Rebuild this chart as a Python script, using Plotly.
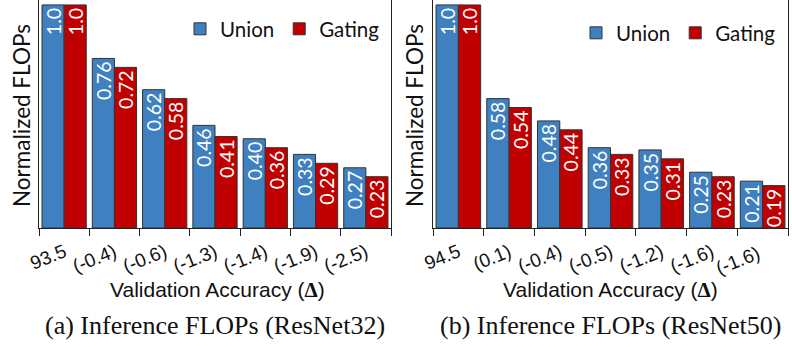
import plotly.graph_objects as go

cats_a = ["93.5", "(-0.4)", "(-0.6)", "(-1.3)", "(-1.4)", "(-1.9)", "(-2.5)"]
union_a = [1.0, 0.76, 0.62, 0.46, 0.40, 0.33, 0.27]
gating_a = [1.0, 0.72, 0.58, 0.41, 0.36, 0.29, 0.23]
labels_union_a = ["1.0", "0.76", "0.62", "0.46", "0.40", "0.33", "0.27"]
labels_gating_a = ["1.0", "0.72", "0.58", "0.41", "0.36", "0.29", "0.23"]

cats_b = ["94.5", "(0.1)", "(-0.4)", "(-0.5)", "(-1.2)", "(-1.6)", "(-1.6) "]
union_b = [1.0, 0.58, 0.48, 0.36, 0.35, 0.25, 0.21]
gating_b = [1.0, 0.54, 0.44, 0.33, 0.31, 0.23, 0.19]
labels_union_b = ["1.0", "0.58", "0.48", "0.36", "0.35", "0.25", "0.21"]
labels_gating_b = ["1.0", "0.54", "0.44", "0.33", "0.31", "0.23", "0.19"]

BLUE = "#3F80C0"
RED = "#C00000"
LAB_FONT = dict(family="Lato", size=19.5, color="white")

fig = go.Figure()

def add(cats, vals, labels, name, color, xa, ya, legend):
    fig.add_trace(go.Bar(
        x=cats, y=vals, name=name, text=labels, textposition="inside",
        insidetextanchor="end", textangle=-90, textfont=LAB_FONT,
        marker=dict(color=color, line=dict(color="#333333", width=1)),
        xaxis=xa, yaxis=ya, legend=legend, cliponaxis=True,
    ))

add(cats_a, union_a, labels_union_a, "Union", BLUE, "x", "y", "legend")
add(cats_a, gating_a, labels_gating_a, "Gating", RED, "x", "y", "legend")
add(cats_b, union_b, labels_union_b, "Union", BLUE, "x2", "y2", "legend2")
add(cats_b, gating_b, labels_gating_b, "Gating", RED, "x2", "y2", "legend2")

W, H = 792, 347
ydom = [1 - 228 / H, 1.0]
xcommon = dict(showline=True, linecolor="#222222", linewidth=1, mirror=True,
               ticks="outside", tickson="boundaries", ticklen=7, tickcolor="#222222",
               tickangle=-22, ticklabelstandoff=5, automargin=False,
               tickfont=dict(family="Liberation Sans", size=19, color="#111111"),
               showgrid=False, zeroline=False)
ycommon = dict(range=[0, 1.022], showline=True, linecolor="#222222", linewidth=1, mirror=True,
               showticklabels=False, ticks="", showgrid=False, zeroline=False, domain=ydom,
               automargin=False)

leg = dict(orientation="h", font=dict(family="Lato", size=20.5, color="#111111"),
           bgcolor="rgba(0,0,0,0)", itemwidth=30, xanchor="right", yanchor="top",
           tracegroupgap=0, itemclick=False)

fig.update_layout(
    width=W, height=H, margin=dict(l=0, r=0, t=0, b=0, autoexpand=False),
    paper_bgcolor="white", plot_bgcolor="white",
    barmode="group", bargap=0.12, bargroupgap=0.0,
    xaxis=dict(domain=[39 / W, 391 / W], anchor="y", **xcommon),
    xaxis2=dict(domain=[433 / W, 788 / W], anchor="y2", **xcommon),
    yaxis=dict(anchor="x", **ycommon),
    yaxis2=dict(anchor="x2", **ycommon),
    legend=dict(x=385 / W, y=1 - 9 / H, **leg),
    legend2=dict(x=781 / W, y=1 - 13 / H, **leg),
    uniformtext=dict(minsize=19, mode="show"),
    showlegend=True,
)

ytitle_font = dict(family="Lato", size=22.5, color="#111111")
xt_font = dict(family="Liberation Sans", size=21, color="#111111")
cap_font = dict(family="Liberation Serif", size=26, color="#111111")
xtitle = "Validation Accuracy (<b><span style='font-family:Liberation Serif'>Δ</span></b>)"

for xc, ycen, cap, xcap in [(21, 217, "(a) Inference FLOPs (ResNet32)", 215),
                            (414, 610, "(b) Inference FLOPs (ResNet50)", 611)]:
    fig.add_annotation(text="Normalized FLOPs", textangle=-90, x=xc / W, y=1 - 116 / H,
                       xref="paper", yref="paper", showarrow=False, font=ytitle_font,
                       xanchor="center", yanchor="middle")
    fig.add_annotation(text=xtitle, x=ycen / W, y=1 - 290 / H, xref="paper", yref="paper",
                       showarrow=False, font=xt_font, xanchor="center", yanchor="middle")
    fig.add_annotation(text=cap, x=xcap / W, y=1 - 325 / H, xref="paper", yref="paper",
                       showarrow=False, font=cap_font, xanchor="center", yanchor="middle")

fig.write_html("out.html")
